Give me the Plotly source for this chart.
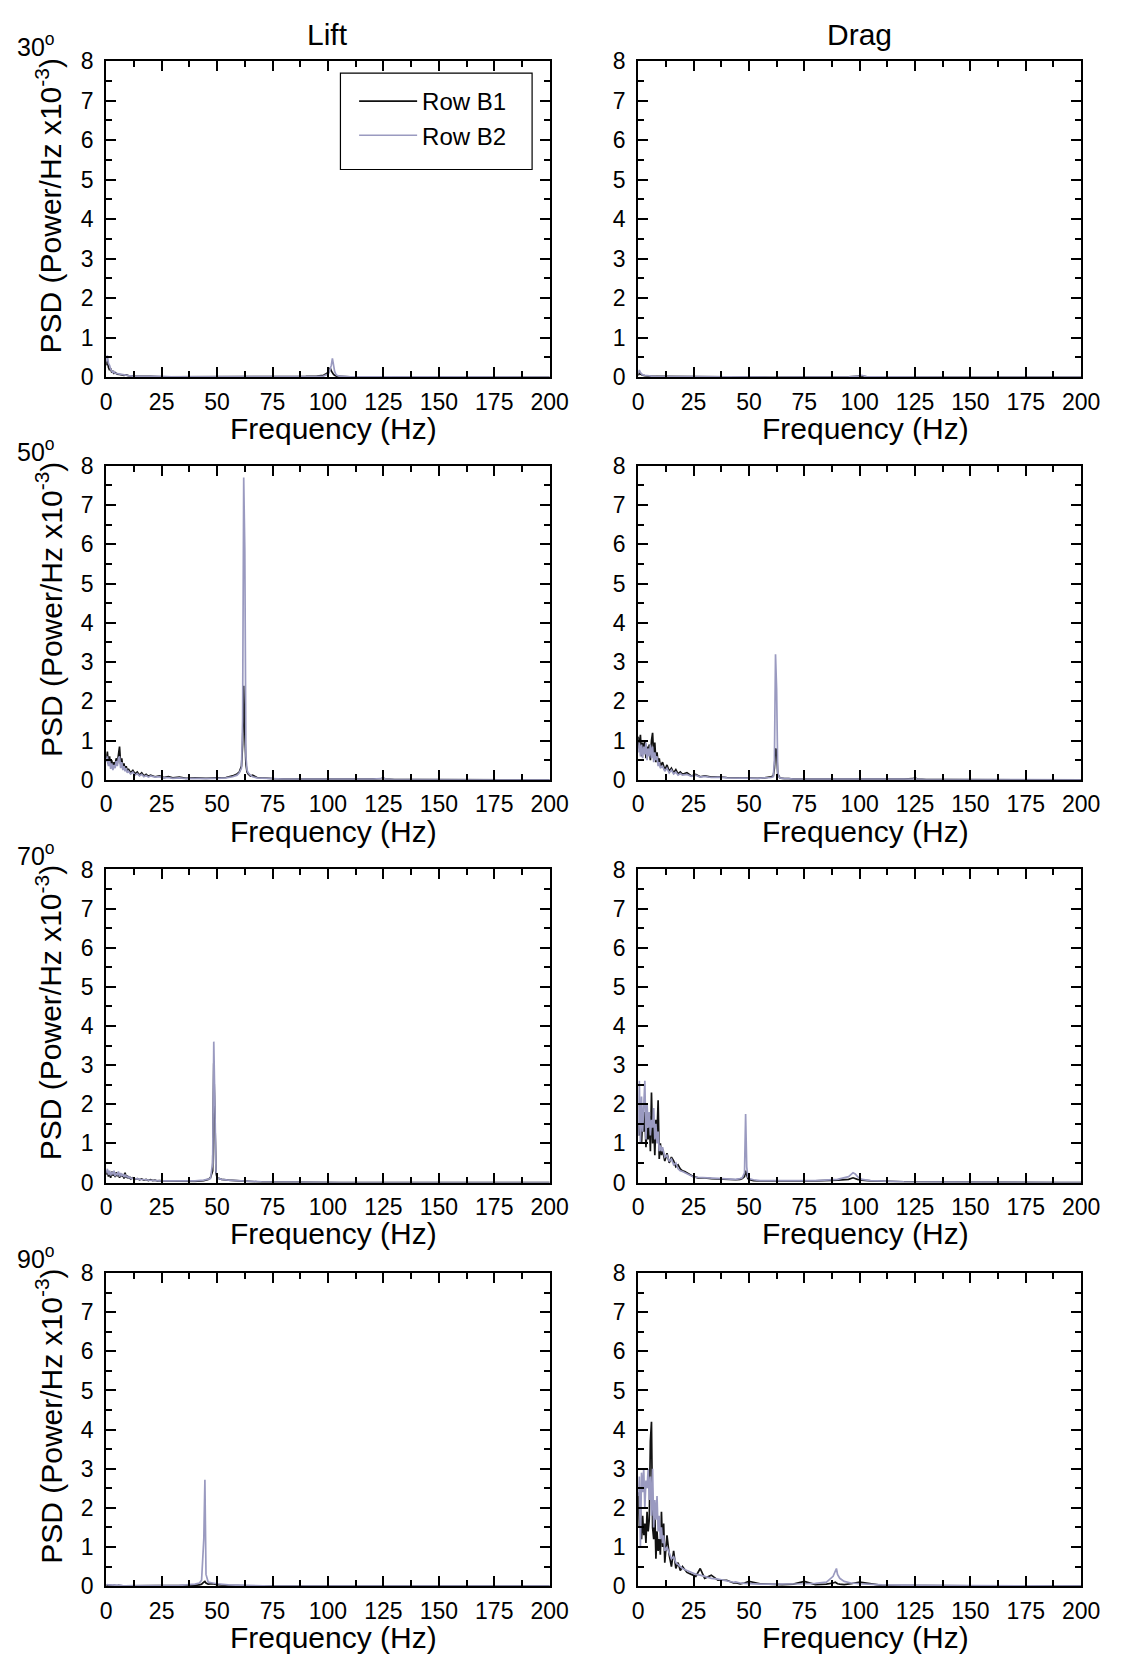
import plotly.graph_objects as go

# ---------------- DATA ----------------
SERIES_NAMES = ["Row B1", "Row B2"]
ANGLES = ["30", "50", "70", "90"]
COLUMNS = ["Lift", "Drag"]
X_TICKS = [0, 25, 50, 75, 100, 125, 150, 175, 200]
Y_TICKS = [0, 1, 2, 3, 4, 5, 6, 7, 8]

# 30 deg - Lift
FREQ_30_LIFT = [0, 0.5, 1, 1.5, 2, 2.5, 3, 3.5, 4, 5,
                6, 7, 8, 9, 10, 12, 14, 16, 18, 20,
                25, 30, 40, 50, 60, 70, 80, 90, 95, 98,
                99, 100, 100.5, 101, 101.5, 102, 102.5, 103, 103.5, 104,
                105, 107, 110, 120, 130, 140, 160, 175, 190, 200]
B1_30_LIFT = [0.30, 0.42, 0.25, 0.18, 0.22, 0.12, 0.15, 0.10, 0.12, 0.08,
              0.07, 0.06, 0.05, 0.06, 0.04, 0.03, 0.03, 0.02, 0.02, 0.02,
              0.01, 0.01, 0.01, 0.01, 0.01, 0.01, 0.01, 0.02, 0.03, 0.05,
              0.08, 0.12, 0.18, 0.24, 0.16, 0.10, 0.07, 0.05, 0.03, 0.02,
              0.02, 0.01, 0.01, 0.01, 0.00, 0.00, 0.00, 0.00, 0.00, 0.00]
B2_30_LIFT = [0.40, 0.55, 0.35, 0.30, 0.20, 0.16, 0.12, 0.14, 0.10, 0.09,
              0.08, 0.06, 0.05, 0.04, 0.04, 0.03, 0.03, 0.02, 0.02, 0.02,
              0.02, 0.01, 0.01, 0.01, 0.01, 0.01, 0.01, 0.01, 0.02, 0.03,
              0.05, 0.08, 0.12, 0.20, 0.30, 0.48, 0.30, 0.15, 0.08, 0.05,
              0.03, 0.02, 0.01, 0.01, 0.01, 0.00, 0.00, 0.00, 0.00, 0.00]

# 30 deg - Drag
FREQ_30_DRAG = [0, 0.5, 1, 1.5, 2, 3, 4, 5, 6, 8,
                10, 15, 20, 25, 30, 40, 60, 80, 95, 99,
                100, 101, 102, 103, 105, 120, 140, 160, 180, 200]
B1_30_DRAG = [0.05, 0.10, 0.08, 0.06, 0.05, 0.04, 0.03, 0.03, 0.02, 0.02,
              0.02, 0.01, 0.01, 0.01, 0.01, 0.01, 0.00, 0.00, 0.01, 0.02,
              0.04, 0.03, 0.02, 0.01, 0.00, 0.00, 0.00, 0.00, 0.00, 0.00]
B2_30_DRAG = [0.10, 0.18, 0.12, 0.08, 0.06, 0.05, 0.04, 0.03, 0.03, 0.02,
              0.02, 0.02, 0.01, 0.02, 0.01, 0.01, 0.00, 0.00, 0.01, 0.02,
              0.03, 0.05, 0.03, 0.01, 0.01, 0.00, 0.00, 0.00, 0.00, 0.00]

# 50 deg (shared frequency grid for lift and drag)
FREQ_50 = [0, 0.5, 1, 1.5, 2, 2.5, 3, 3.5, 4, 4.5,
           5, 5.5, 6, 6.5, 7, 7.5, 8, 8.5, 9, 9.5,
           10, 11, 12, 13, 14, 15, 16, 17, 18, 19,
           20, 22, 24, 26, 28, 30, 33, 36, 40, 45,
           50, 54, 57, 59, 60, 61, 61.5, 62, 62.5, 63,
           63.5, 64, 65, 66, 68, 70, 75, 80, 90, 100,
           110, 120, 124, 125, 126, 130, 140, 160, 180, 200]
B1_50_LIFT = [0.55, 0.72, 0.40, 0.60, 0.35, 0.50, 0.30, 0.45, 0.38, 0.55,
              0.42, 0.62, 0.85, 0.40, 0.55, 0.30, 0.42, 0.25, 0.35, 0.22,
              0.28, 0.18, 0.24, 0.15, 0.20, 0.12, 0.18, 0.10, 0.14, 0.09,
              0.12, 0.08, 0.10, 0.06, 0.08, 0.05, 0.07, 0.04, 0.05, 0.04,
              0.05, 0.06, 0.10, 0.15, 0.20, 0.35, 0.90, 2.40, 1.20, 0.40,
              0.20, 0.15, 0.10, 0.12, 0.06, 0.05, 0.03, 0.02, 0.02, 0.01,
              0.01, 0.02, 0.03, 0.04, 0.02, 0.01, 0.01, 0.00, 0.00, 0.00]
B2_50_LIFT = [0.45, 0.60, 0.35, 0.50, 0.28, 0.42, 0.25, 0.38, 0.30, 0.48,
              0.35, 0.55, 0.60, 0.30, 0.45, 0.25, 0.35, 0.22, 0.30, 0.18,
              0.22, 0.15, 0.20, 0.12, 0.16, 0.10, 0.14, 0.08, 0.11, 0.07,
              0.10, 0.07, 0.08, 0.05, 0.06, 0.04, 0.05, 0.03, 0.04, 0.03,
              0.04, 0.05, 0.08, 0.12, 0.18, 0.30, 1.50, 7.70, 5.85, 0.60,
              0.25, 0.18, 0.12, 0.08, 0.05, 0.04, 0.03, 0.02, 0.02, 0.01,
              0.01, 0.02, 0.03, 0.05, 0.02, 0.01, 0.01, 0.00, 0.00, 0.00]
B1_50_DRAG = [1.10, 0.80, 1.15, 0.60, 0.95, 0.70, 1.00, 0.55, 0.85, 0.65,
              0.90, 0.50, 1.00, 1.20, 0.60, 0.95, 0.45, 0.70, 0.40, 0.55,
              0.35, 0.45, 0.25, 0.38, 0.22, 0.30, 0.18, 0.26, 0.15, 0.20,
              0.14, 0.18, 0.10, 0.14, 0.08, 0.10, 0.07, 0.08, 0.06, 0.05,
              0.05, 0.04, 0.05, 0.06, 0.08, 0.10, 0.30, 0.80, 0.75, 0.15,
              0.08, 0.05, 0.04, 0.03, 0.03, 0.02, 0.02, 0.02, 0.01, 0.01,
              0.01, 0.02, 0.03, 0.05, 0.02, 0.01, 0.01, 0.00, 0.00, 0.00]
B2_50_DRAG = [0.70, 0.95, 0.60, 0.90, 0.55, 0.85, 0.65, 0.95, 0.50, 0.80,
              0.60, 0.90, 0.55, 0.85, 0.45, 0.70, 0.50, 0.60, 0.35, 0.45,
              0.30, 0.35, 0.22, 0.30, 0.18, 0.25, 0.15, 0.20, 0.12, 0.16,
              0.12, 0.14, 0.09, 0.12, 0.07, 0.09, 0.06, 0.07, 0.05, 0.04,
              0.04, 0.04, 0.05, 0.05, 0.06, 0.08, 0.50, 3.20, 2.30, 0.20,
              0.08, 0.05, 0.04, 0.03, 0.03, 0.02, 0.02, 0.02, 0.01, 0.01,
              0.01, 0.02, 0.02, 0.04, 0.02, 0.01, 0.01, 0.00, 0.00, 0.00]

# 70 deg
FREQ_70 = [0, 0.5, 1, 1.5, 2, 2.5, 3, 3.5, 4, 4.5,
           5, 5.5, 6, 6.5, 7, 7.5, 8, 8.5, 9, 9.5,
           10, 10.5, 11, 12, 13, 14, 15, 16, 17, 18,
           19, 20, 21, 22, 23, 24, 25, 27, 30, 33,
           36, 40, 44, 46, 47, 48, 48.5, 49, 49.5, 50,
           51, 52, 55, 60, 65, 70, 80, 90, 95, 97,
           98, 99, 101, 105, 120, 140, 160, 180, 190, 200]
B1_70_LIFT = [0.20, 0.30, 0.15, 0.25, 0.12, 0.28, 0.18, 0.22, 0.14, 0.26,
              0.16, 0.24, 0.12, 0.22, 0.15, 0.20, 0.10, 0.25, 0.12, 0.18,
              0.10, 0.15, 0.09, 0.12, 0.08, 0.10, 0.07, 0.09, 0.06, 0.08,
              0.05, 0.07, 0.05, 0.06, 0.04, 0.05, 0.04, 0.04, 0.03, 0.03,
              0.03, 0.03, 0.05, 0.08, 0.12, 0.30, 3.05, 1.20, 0.25, 0.12,
              0.10, 0.08, 0.06, 0.04, 0.02, 0.01, 0.01, 0.00, 0.00, 0.00,
              0.00, 0.01, 0.00, 0.00, 0.00, 0.00, 0.00, 0.00, 0.00, 0.00]
B2_70_LIFT = [0.25, 0.35, 0.20, 0.30, 0.18, 0.25, 0.22, 0.30, 0.16, 0.22,
              0.20, 0.28, 0.15, 0.24, 0.18, 0.22, 0.14, 0.20, 0.15, 0.16,
              0.12, 0.14, 0.10, 0.11, 0.09, 0.10, 0.08, 0.08, 0.07, 0.07,
              0.06, 0.06, 0.05, 0.05, 0.05, 0.04, 0.04, 0.04, 0.03, 0.03,
              0.03, 0.04, 0.06, 0.08, 0.10, 0.50, 3.60, 2.00, 0.30, 0.12,
              0.10, 0.08, 0.06, 0.04, 0.03, 0.02, 0.01, 0.01, 0.01, 0.01,
              0.01, 0.01, 0.00, 0.00, 0.00, 0.00, 0.00, 0.00, 0.00, 0.00]
B1_70_DRAG = [1.50, 1.20, 2.00, 1.00, 1.60, 1.30, 1.80, 0.90, 1.40, 1.10,
              1.70, 0.80, 2.30, 1.00, 1.50, 0.70, 1.60, 1.20, 2.10, 0.60,
              1.00, 0.70, 0.85, 0.55, 0.75, 0.50, 0.65, 0.55, 0.40, 0.45,
              0.35, 0.30, 0.28, 0.25, 0.20, 0.18, 0.15, 0.12, 0.12, 0.10,
              0.09, 0.08, 0.07, 0.08, 0.10, 0.15, 0.30, 0.20, 0.10, 0.08,
              0.06, 0.05, 0.04, 0.04, 0.04, 0.03, 0.04, 0.06, 0.08, 0.12,
              0.10, 0.08, 0.06, 0.04, 0.02, 0.01, 0.01, 0.00, 0.00, 0.00]
B2_70_DRAG = [1.20, 2.60, 1.00, 2.20, 1.30, 1.80, 2.60, 1.10, 2.00, 1.40,
              1.80, 1.20, 1.60, 1.40, 1.90, 1.10, 1.50, 1.00, 1.30, 0.80,
              0.95, 0.80, 0.90, 0.65, 0.70, 0.55, 0.60, 0.45, 0.50, 0.35,
              0.30, 0.28, 0.25, 0.22, 0.18, 0.16, 0.14, 0.13, 0.12, 0.11,
              0.10, 0.09, 0.08, 0.10, 0.12, 0.25, 1.75, 0.40, 0.15, 0.10,
              0.08, 0.07, 0.05, 0.05, 0.04, 0.04, 0.05, 0.08, 0.15, 0.25,
              0.22, 0.15, 0.08, 0.05, 0.02, 0.01, 0.01, 0.01, 0.00, 0.00]

# 90 deg
FREQ_90 = [0, 0.5, 1, 1.5, 2, 2.5, 3, 3.5, 4, 4.5,
           5, 5.5, 6, 6.5, 7, 7.5, 8, 8.5, 9, 9.5,
           10, 10.5, 11, 11.5, 12, 13, 14, 15, 16, 17,
           18, 19, 20, 22, 24, 26, 28, 30, 33, 36,
           40, 42, 43, 44, 44.5, 45, 46, 48, 50, 55,
           60, 65, 70, 75, 80, 85, 88, 89, 89.5, 90,
           91, 93, 96, 100, 110, 130, 150, 170, 185, 200]
B1_90_LIFT = [0.02, 0.03, 0.02, 0.02, 0.01, 0.02, 0.01, 0.02, 0.01, 0.01,
              0.01, 0.02, 0.01, 0.01, 0.01, 0.01, 0.01, 0.01, 0.01, 0.01,
              0.01, 0.01, 0.01, 0.01, 0.01, 0.01, 0.01, 0.01, 0.01, 0.01,
              0.01, 0.01, 0.01, 0.01, 0.01, 0.01, 0.01, 0.01, 0.01, 0.01,
              0.02, 0.03, 0.05, 0.10, 0.12, 0.08, 0.05, 0.06, 0.04, 0.02,
              0.01, 0.01, 0.00, 0.00, 0.00, 0.00, 0.00, 0.00, 0.00, 0.00,
              0.00, 0.00, 0.00, 0.00, 0.00, 0.00, 0.00, 0.00, 0.00, 0.00]
B2_90_LIFT = [0.03, 0.04, 0.03, 0.03, 0.02, 0.03, 0.02, 0.02, 0.02, 0.02,
              0.02, 0.02, 0.02, 0.02, 0.02, 0.01, 0.02, 0.01, 0.01, 0.01,
              0.01, 0.01, 0.01, 0.01, 0.01, 0.01, 0.01, 0.01, 0.01, 0.01,
              0.01, 0.01, 0.01, 0.01, 0.01, 0.01, 0.01, 0.02, 0.02, 0.03,
              0.05, 0.08, 0.15, 1.20, 2.72, 0.30, 0.10, 0.08, 0.06, 0.03,
              0.02, 0.01, 0.01, 0.00, 0.00, 0.00, 0.00, 0.00, 0.00, 0.00,
              0.00, 0.00, 0.00, 0.00, 0.00, 0.00, 0.00, 0.00, 0.00, 0.00]
B1_90_DRAG = [2.40, 1.50, 2.00, 1.20, 1.80, 1.30, 1.60, 1.10, 1.90, 1.40,
              1.70, 3.70, 4.20, 1.50, 1.20, 1.90, 0.70, 1.40, 0.90, 1.20,
              0.80, 1.90, 1.00, 1.60, 0.60, 1.30, 0.80, 0.50, 0.90, 0.45,
              0.60, 0.40, 0.50, 0.35, 0.30, 0.25, 0.45, 0.20, 0.28, 0.15,
              0.15, 0.10, 0.08, 0.09, 0.08, 0.07, 0.06, 0.08, 0.12, 0.06,
              0.05, 0.04, 0.05, 0.12, 0.04, 0.05, 0.08, 0.10, 0.08, 0.06,
              0.05, 0.04, 0.06, 0.10, 0.02, 0.01, 0.01, 0.01, 0.00, 0.00]
B2_90_DRAG = [2.30, 2.80, 1.00, 2.90, 2.40, 3.00, 2.00, 2.70, 2.50, 3.00,
              2.20, 2.80, 1.80, 3.00, 1.50, 2.20, 1.70, 2.30, 1.40, 1.80,
              1.20, 1.50, 1.10, 1.30, 0.90, 1.00, 0.85, 0.70, 0.75, 0.60,
              0.55, 0.50, 0.45, 0.40, 0.35, 0.30, 0.28, 0.25, 0.20, 0.18,
              0.14, 0.12, 0.10, 0.11, 0.10, 0.09, 0.08, 0.07, 0.06, 0.05,
              0.05, 0.05, 0.06, 0.06, 0.07, 0.10, 0.25, 0.40, 0.45, 0.30,
              0.20, 0.12, 0.08, 0.06, 0.03, 0.02, 0.01, 0.01, 0.01, 0.00]

PANELS = [
    # (row, col, freq, b1, b2)
    (0, 0, FREQ_30_LIFT, B1_30_LIFT, B2_30_LIFT),
    (0, 1, FREQ_30_DRAG, B1_30_DRAG, B2_30_DRAG),
    (1, 0, FREQ_50, B1_50_LIFT, B2_50_LIFT),
    (1, 1, FREQ_50, B1_50_DRAG, B2_50_DRAG),
    (2, 0, FREQ_70, B1_70_LIFT, B2_70_LIFT),
    (2, 1, FREQ_70, B1_70_DRAG, B2_70_DRAG),
    (3, 0, FREQ_90, B1_90_LIFT, B2_90_LIFT),
    (3, 1, FREQ_90, B1_90_DRAG, B2_90_DRAG),
]

# ---------------- LAYOUT / STYLE ----------------
W, H = 1130, 1670
FONT = "Liberation Sans, Arial, Helvetica, sans-serif"
COL_B1 = "#111111"
COL_B2 = "#9a9ac0"
TITLE_SIZE = 30
TICK_SIZE = 23

COL_X = [(102.5, 556.0), (646.5, 1099.5)]        # px
ROW_Y = [(49, 370), (460, 779), (870, 1188), (1280, 1598)]  # px (top, bottom)

def px_x(p):
    return p / W

def px_y(p):
    return 1 - p / H

fig = go.Figure()
layout_axes = {}
annotations = []

for idx, (r, c, freq, b1, b2) in enumerate(PANELS):
    n = idx + 1
    xa = "x" if n == 1 else f"x{n}"
    ya = "y" if n == 1 else f"y{n}"
    fig.add_trace(go.Scatter(x=freq, y=b1, mode="lines", name=SERIES_NAMES[0],
                             line=dict(color=COL_B1, width=1.7),
                             xaxis=xa, yaxis=ya, showlegend=(n == 1),
                             legendrank=1))
    fig.add_trace(go.Scatter(x=freq, y=b2, mode="lines", name=SERIES_NAMES[1],
                             line=dict(color=COL_B2, width=1.7),
                             xaxis=xa, yaxis=ya, showlegend=(n == 1),
                             legendrank=2))
    x0, x1 = COL_X[c]
    yt, yb = ROW_Y[r]
    common = dict(showline=True, linecolor="black", linewidth=2, mirror="ticks",
                  ticks="inside", tickcolor="black", tickwidth=2, ticklen=10,
                  showgrid=False, zeroline=False,
                  tickfont=dict(family=FONT, size=TICK_SIZE, color="black"))
    layout_axes["xaxis" if n == 1 else f"xaxis{n}"] = dict(
        domain=[px_x(x0), px_x(x1)], anchor=ya, range=[0, 200],
        tickvals=X_TICKS, ticktext=[str(v) for v in X_TICKS],
        ticklabelstandoff=3,
        minor=dict(dtick=12.5, tick0=0, ticks="inside", ticklen=6,
                   tickwidth=2, tickcolor="black"),
        **common)
    layout_axes["yaxis" if n == 1 else f"yaxis{n}"] = dict(
        domain=[px_y(yb), px_y(yt)], anchor=xa, range=[0, 8],
        tickvals=Y_TICKS, ticktext=[str(v) for v in Y_TICKS],
        ticklabelstandoff=6,
        minor=dict(dtick=0.5, tick0=0, ticks="inside", ticklen=6,
                   tickwidth=2, tickcolor="black"),
        **common)
    # x-axis title
    annotations.append(dict(text="Frequency (Hz)", xref="paper", yref="paper",
                            x=px_x((x0 + x1) / 2 + 6), y=px_y(yb + 52),
                            xanchor="center", yanchor="middle", showarrow=False,
                            font=dict(family=FONT, size=TITLE_SIZE, color="black")))
    if c == 0:
        annotations.append(dict(text="PSD (Power/Hz x10<sup>-3</sup>)",
                                xref="paper", yref="paper",
                                x=px_x(44), y=px_y((yt + yb) / 2 - 13),
                                textangle=-90, xanchor="center", yanchor="middle",
                                showarrow=False,
                                font=dict(family=FONT, size=TITLE_SIZE, color="black")))
        annotations.append(dict(text=ANGLES[r] + "<sup>o</sup>", xref="paper", yref="paper",
                                x=px_x(31), y=px_y(yt - 16), xanchor="center",
                                yanchor="middle", showarrow=False,
                                font=dict(family=FONT, size=25, color="black")))

# column titles
for c, name in enumerate(COLUMNS):
    x0, x1 = COL_X[c]
    annotations.append(dict(text=name, xref="paper", yref="paper",
                            x=px_x((x0 + x1) / 2), y=px_y(22),
                            xanchor="center", yanchor="middle", showarrow=False,
                            font=dict(family=FONT, size=TITLE_SIZE, color="black")))

fig.update_layout(
    width=W, height=H,
    margin=dict(l=0, r=0, t=0, b=0, pad=0),
    paper_bgcolor="white", plot_bgcolor="white",
    font=dict(family=FONT, color="black"),
    annotations=annotations,
    showlegend=True,
    legend=dict(x=px_x(356), y=px_y(67), xanchor="left", yanchor="top",
                bgcolor="rgba(255,255,255,0)", borderwidth=0,
                font=dict(family=FONT, size=24, color="black"),
                itemwidth=58, tracegroupgap=0),
    shapes=[dict(type="rect", xref="paper", yref="paper",
                 x0=px_x(342), x1=px_x(538), y0=px_y(159), y1=px_y(61),
                 line=dict(color="black", width=1.2), fillcolor="rgba(0,0,0,0)",
                 layer="above")],
    **layout_axes,
)

fig.write_html("out.html")
